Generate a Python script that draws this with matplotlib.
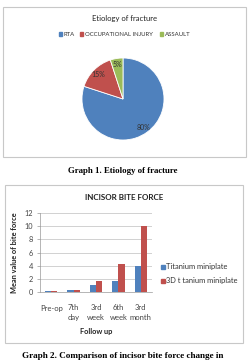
import matplotlib
matplotlib.use("Agg")
import matplotlib.pyplot as plt
from matplotlib.patches import Rectangle
import numpy as np

W, H = 249, 361

# Pie data
pie_labels = ["RTA", "OCCUPATIONAL INJURY", "ASSAULT"]
pie_values = [80, 15, 5]
pie_colors = ["#4F81BD", "#C0504D", "#9BBB59"]

# Bar data
categories = ["Pre-op", "7th\nday", "3rd\nweek", "6th\nweek", "3rd\nmonth"]
titanium = [0.1, 0.35, 1.0, 1.7, 3.9]
titanium_3d = [0.2, 0.35, 1.6, 4.3, 10.0]
series_names = ["Titanium miniplate", "3D t tanium miniplate"]
series_colors = ["#4F81BD", "#C0504D"]
yticks = [0, 2, 4, 6, 8, 10, 12]

sans = ["Lato", "DejaVu Sans"]
serif = ["Liberation Serif", "DejaVu Serif"]

fig = plt.figure(figsize=(W / 100, H / 100), dpi=100)
fig.patch.set_facecolor("white")

def fx(x):
    return x / W

def fy(y):
    return 1 - y / H

def frame(x0, y0, x1, y1):
    fig.patches.append(Rectangle((fx(x0), fy(y1)), fx(x1) - fx(x0), fy(y0) - fy(y1),
                                 transform=fig.transFigure, fill=False,
                                 edgecolor="#C8C8C8", linewidth=0.8))

# ---- Chart 1 ----
frame(3, 7, 246, 157)
fig.text(fx(124), fy(18), "Etiology of fracture", ha="center", va="center",
         fontsize=5.5, family=sans, color="#222222")
lx = [59, 80, 160]
for xx, lab, c in zip(lx, pie_labels, pie_colors):
    fig.patches.append(Rectangle((fx(xx), fy(35.5)), fx(3), 3 / H, transform=fig.transFigure,
                                 color=c))
    fig.text(fx(xx + 5), fy(34), lab, ha="left", va="center", fontsize=4.3,
             family=sans, color="#333333")

r = 41
cx, cy = 123, 99
axp = fig.add_axes([fx(cx - r), fy(cy + r), 2 * r / W, 2 * r / H])
wedges, texts = axp.pie(pie_values, colors=pie_colors, startangle=90, counterclock=False,
                        labels=[f"{v}%" for v in pie_values], labeldistance=0.86,
                        wedgeprops=dict(linewidth=0.6, edgecolor="white"),
                        textprops=dict(fontsize=5, family=sans, color="#333333",
                                       ha="center", va="center"))
for t in texts:
    t.set_ha("center")
axp.set_xlim(-1, 1)
axp.set_ylim(-1, 1)
axp.set_aspect("auto")

fig.text(fx(123), fy(171), "Graph 1. Etiology of fracture", ha="center", va="center",
         fontsize=6.3, family=serif, weight="bold")

# ---- Chart 2 ----
frame(5, 185, 243, 343)
fig.text(fx(124), fy(198), "INCISOR BITE FORCE", ha="center", va="center",
         fontsize=5.8, family=sans, weight="bold", color="#222222")

ax = fig.add_axes([fx(40), fy(292), (152 - 40) / W, (292 - 213) / H])
x = np.arange(len(categories))
bw = 0.28
ax.bar(x - bw / 2, titanium, bw, color=series_colors[0], label=series_names[0])
ax.bar(x + bw / 2, titanium_3d, bw, color=series_colors[1], label=series_names[1])
ax.set_xlim(-0.5, len(categories) - 0.5)
ax.set_ylim(0, 12)
ax.set_yticks(yticks)
ax.set_yticklabels([str(v) for v in yticks], fontsize=5.3, family=sans, color="#444444")
ax.set_xticks(x)
ax.set_xticklabels(categories, fontsize=5.5, family=sans, color="#444444", va="top",
                   linespacing=1.35)
ax.tick_params(axis="x", length=0, pad=9)
ax.tick_params(axis="y", length=2, width=0.5, color="#999999", pad=3)
ax.grid(axis="y", color="#BFBFBF", linewidth=0.5)
ax.set_axisbelow(True)
for s in ["top", "right"]:
    ax.spines[s].set_visible(False)
for s in ["left", "bottom"]:
    ax.spines[s].set_color("#999999")
    ax.spines[s].set_linewidth(0.5)
ax.set_ylabel("Mean value of bite force", fontsize=5.3, family=sans, weight="bold",
              color="#222222", labelpad=5)
ax.set_xlabel("Follow up", fontsize=5.3, family=sans, weight="bold", color="#222222",
              labelpad=5)

# legend (manual)
ly = [267, 281]
for yy, lab, c in zip(ly, series_names, series_colors):
    fig.patches.append(Rectangle((fx(161), fy(yy + 1.8)), fx(3.6), 3.6 / H,
                                 transform=fig.transFigure, color=c))
    fig.text(fx(166), fy(yy), lab, ha="left", va="center", fontsize=5.4,
             family=sans, color="#333333")

fig.text(fx(123), fy(355.5), "Graph 2. Comparison of incisor bite force change in",
         ha="center", va="center", fontsize=6.6, family=serif, weight="bold")

fig.savefig("out.png", dpi=100, facecolor="white")
